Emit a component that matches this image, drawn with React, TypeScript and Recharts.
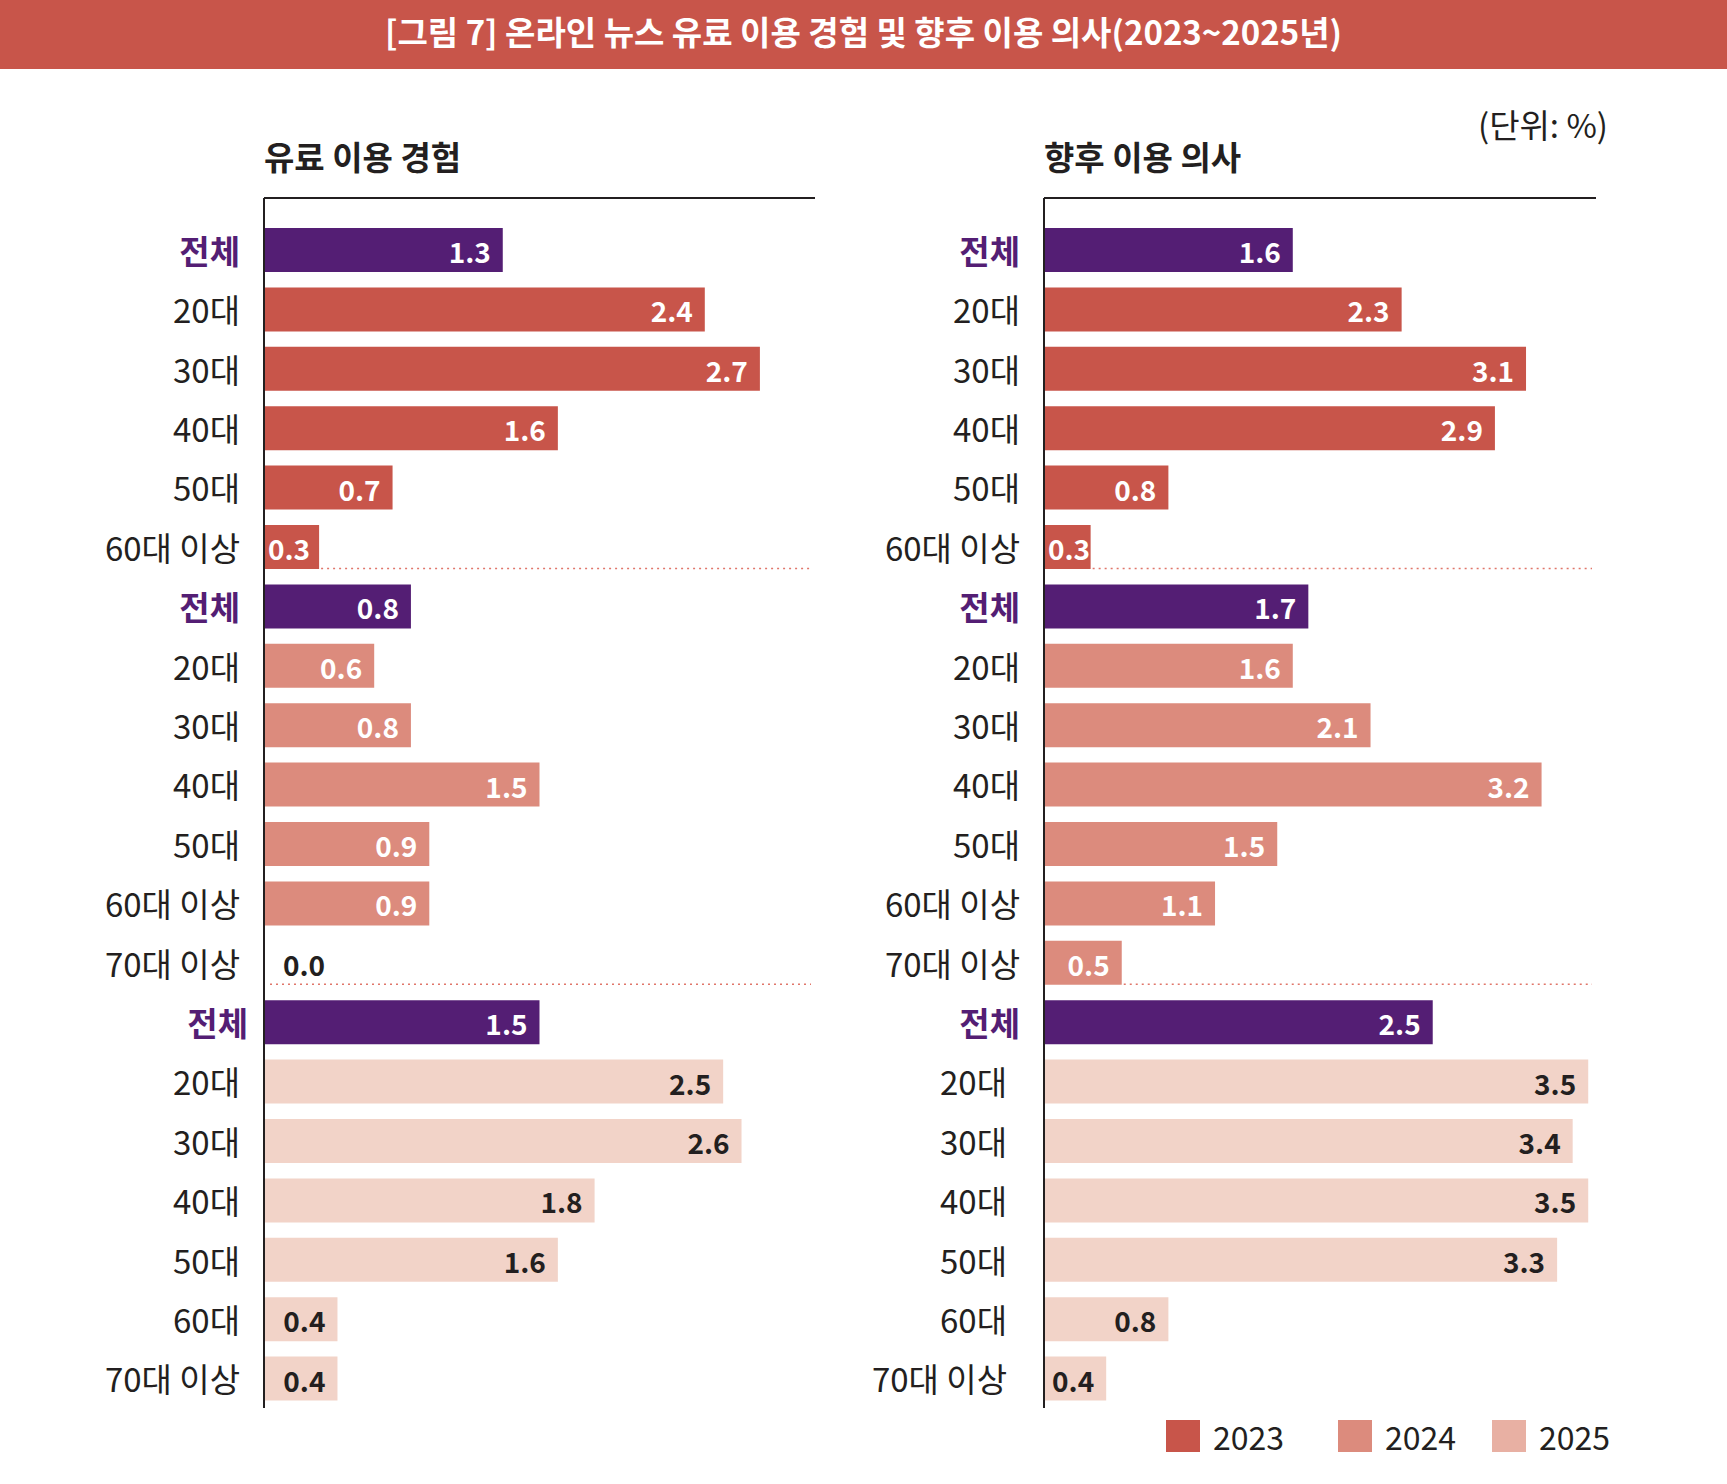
import { BarChart, Bar, XAxis, YAxis, Cell, LabelList } from 'recharts';

const years = ['2023', '2024', '2025'];

const labels2023 = ['전체', '20대', '30대', '40대', '50대', '60대 이상'];
const labels2024 = ['전체', '20대', '30대', '40대', '50대', '60대 이상', '70대 이상'];
const labels2025 = ['전체', '20대', '30대', '40대', '50대', '60대', '70대 이상'];

// 유료 이용 경험
const paid2023 = [1.3, 2.4, 2.7, 1.6, 0.7, 0.3];
const paid2024 = [0.8, 0.6, 0.8, 1.5, 0.9, 0.9, 0.0];
const paid2025 = [1.5, 2.5, 2.6, 1.8, 1.6, 0.4, 0.4];

// 향후 이용 의사
const intent2023 = [1.6, 2.3, 3.1, 2.9, 0.8, 0.3];
const intent2024 = [1.7, 1.6, 2.1, 3.2, 1.5, 1.1, 0.5];
const intent2025 = [2.5, 3.5, 3.4, 3.5, 3.3, 0.8, 0.4];

const FONT = "'Noto Sans CJK KR', 'Noto Sans', sans-serif";
const TEXT = '#231F20';
const PURPLE = '#541E74';
const yearColors: Record<string, string> = { '2023': '#C8554A', '2024': '#DC8B7D', '2025': '#F2D3C8' };
const legendColors: Record<string, string> = { '2023': '#C8554A', '2024': '#DC8B7D', '2025': '#E8B0A3' };

type Row = { key: string; year: string; label: string; value: number; isTotal: boolean; sep: boolean };

function buildRows(groups: number[][]): Row[] {
  const labelSets = [labels2023, labels2024, labels2025];
  return years.flatMap((year, g) =>
    labelSets[g].map((label, i) => ({
      key: `${year}-${i}`,
      year,
      label,
      value: groups[g][i],
      isTotal: i === 0,
      sep: g < years.length - 1 && i === labelSets[g].length - 1,
    }))
  );
}

const paidRows = buildRows([paid2023, paid2024, paid2025]);
const intentRows = buildRows([intent2023, intent2024, intent2025]);

const barFill = (r: Row) => (r.isTotal ? PURPLE : yearColors[r.year]);

const VALUE_SIZE = 28;
// rough text width of a value label like "0.3"
const valueWidth = (s: string) =>
  s.split('').reduce((w, c) => w + (c === '.' ? 0.28 : 0.57), 0) * VALUE_SIZE;

type PanelProps = {
  rows: Row[];
  maxValue: number;
  left: number;
  axisWidth: number;
  plotWidth: number;
  labelShift: (r: Row) => number;
};

function Panel({ rows, maxValue, left, axisWidth, plotWidth, labelShift }: PanelProps) {
  const byKey = new Map(rows.map((r) => [r.key, r]));
  const marginRight = 15;
  const width = axisWidth + plotWidth + marginRight;

  const renderTick = (props: any) => {
    const r = byKey.get(props.payload.value);
    if (!r) return null;
    return (
      <text
        x={props.x + labelShift(r)}
        y={props.y}
        textAnchor="end"
        dominantBaseline="central"
        fontFamily={FONT}
        fontSize={33}
        fontWeight={r.isTotal ? 700 : 400}
        fill={r.isTotal ? PURPLE : TEXT}
      >
        {r.label}
      </text>
    );
  };

  const renderValue = (props: any) => {
    const r = byKey.get(props.value);
    if (!r) return null;
    const x = Number(props.x);
    const y = Number(props.y);
    const w = Number(props.width);
    const h = Number(props.height);
    const dark = r.year === '2025' && !r.isTotal;
    const zero = r.value === 0;
    const text = r.value.toFixed(1);
    const tw = valueWidth(text);
    let tx = x + w - 12;
    let anchor: 'start' | 'end' = 'end';
    if (zero) {
      tx = x + 19;
      anchor = 'start';
    } else if (w - 12 - tw < 4) {
      tx = x + 4;
      anchor = 'start';
    }
    return (
      <g>
        {r.sep && (
          <line
            x1={zero ? x + 6 : x + w + 2}
            x2={x + plotWidth - 4}
            y1={y + h - 0.5}
            y2={y + h - 0.5}
            stroke="#E0766A"
            strokeWidth={1.5}
            strokeDasharray="2 4"
          />
        )}
        <text
          x={tx}
          y={y + h / 2 + 1}
          textAnchor={anchor}
          dominantBaseline="central"
          fontFamily={FONT}
          fontSize={VALUE_SIZE}
          fontWeight={700}
          fill={zero || dark ? TEXT : '#FFFFFF'}
        >
          {text}
        </text>
      </g>
    );
  };

  return (
    <div style={{ position: 'absolute', left, top: 0 }}>
      <BarChart
        layout="vertical"
        width={width}
        height={1420}
        data={rows}
        margin={{ top: 197, right: marginRight, bottom: 12, left: 0 }}
      >
        <XAxis
          type="number"
          domain={[0, maxValue]}
          orientation="top"
          height={1}
          tick={false}
          tickLine={false}
          axisLine={{ stroke: TEXT, strokeWidth: 2 }}
        />
        <YAxis
          type="category"
          dataKey="key"
          width={axisWidth}
          interval={0}
          tickLine={false}
          tickSize={0}
          tickMargin={24}
          tick={renderTick}
          padding={{ top: 22, bottom: 0 }}
          axisLine={{ stroke: TEXT, strokeWidth: 2 }}
        />
        <Bar dataKey="value" barSize={44} minPointSize={1} isAnimationActive={false}>
          {rows.map((r) => (
            <Cell key={r.key} fill={barFill(r)} />
          ))}
          <LabelList dataKey="key" content={renderValue} />
        </Bar>
      </BarChart>
    </div>
  );
}

export default function App() {
  return (
    <div
      style={{
        position: 'absolute',
        left: 0,
        top: 0,
        width: 1727,
        height: 1484,
        background: '#FFFFFF',
        fontFamily: FONT,
        color: TEXT,
        overflow: 'hidden',
      }}
    >
      <div
        style={{
          position: 'absolute',
          left: 0,
          top: 0,
          width: 1727,
          height: 69,
          background: '#C8554A',
          color: '#FFFFFF',
          fontSize: 33,
          fontWeight: 700,
          lineHeight: '62px',
          textAlign: 'center',
        }}
      >
        [그림 7] 온라인 뉴스 유료 이용 경험 및 향후 이용 의사(2023~2025년)
      </div>

      <div style={{ position: 'absolute', left: 264, top: 136, fontSize: 33, fontWeight: 700, lineHeight: '40px' }}>
        유료 이용 경험
      </div>
      <div style={{ position: 'absolute', left: 1044, top: 136, fontSize: 33, fontWeight: 700, lineHeight: '40px' }}>
        향후 이용 의사
      </div>
      <div style={{ position: 'absolute', right: 1727 - 1608, top: 104, fontSize: 33, lineHeight: '40px' }}>
        (단위: %)
      </div>

      <Panel
        rows={paidRows}
        maxValue={3}
        left={0}
        axisWidth={264}
        plotWidth={551}
        labelShift={(r) => (r.year === '2025' && r.isTotal ? 8 : 0)}
      />
      <Panel
        rows={intentRows}
        maxValue={3.55}
        left={800}
        axisWidth={244}
        plotWidth={552}
        labelShift={(r) => (r.year === '2025' && !r.isTotal ? -13 : 0)}
      />

      <div
        style={{
          position: 'absolute',
          left: 1166,
          top: 1416,
          display: 'flex',
          alignItems: 'center',
          fontSize: 32,
          lineHeight: '40px',
        }}
      >
        {years.map((y, i) => (
          <div key={y} style={{ display: 'flex', alignItems: 'center', marginLeft: i === 0 ? 0 : i === 1 ? 54 : 36 }}>
            <div style={{ width: 34, height: 32, background: legendColors[y], marginRight: 13 }} />
            <span>{y}</span>
          </div>
        ))}
      </div>
    </div>
  );
}
